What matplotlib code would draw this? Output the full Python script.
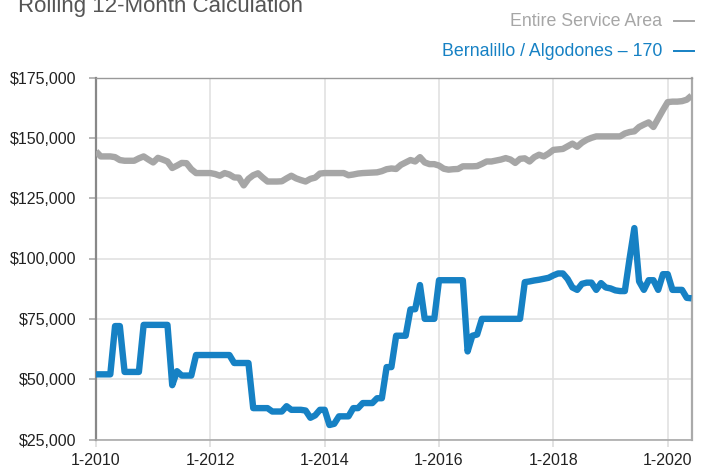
import matplotlib
matplotlib.use("Agg")
import matplotlib.pyplot as plt
from matplotlib.lines import Line2D
import numpy as np

# ---- data (monthly, 1-2010 .. 6-2020) ----
entire_service_area = [
    144.4, 142.3, 142.3, 142.3, 142.0, 140.8, 140.5, 140.5, 140.5, 141.5, 142.3, 141.0,
    139.8, 141.7, 141.0, 140.2, 137.5, 138.5, 139.6, 139.5, 137.0, 135.4, 135.4, 135.4,
    135.4, 135.0, 134.3, 135.4, 134.8, 133.6, 133.5, 130.3, 133.0, 134.5, 135.3, 133.5,
    131.9, 131.9, 131.9, 132.0, 133.2, 134.3, 133.2, 132.5, 131.9, 133.0, 133.5, 135.2,
    135.4, 135.4, 135.4, 135.4, 135.4, 134.5, 134.8, 135.2, 135.4, 135.5, 135.6, 135.7,
    136.2, 137.0, 137.3, 137.1, 138.8, 139.8, 140.8, 140.2, 142.0, 139.8, 139.1, 139.1,
    138.5, 137.2, 136.8, 137.0, 137.1, 138.2, 138.2, 138.2, 138.3, 139.2, 140.2, 140.2,
    140.6, 141.0, 141.6, 141.0, 139.6, 141.3, 141.5, 140.2, 142.0, 143.0, 142.3, 143.5,
    145.0, 145.2, 145.4, 146.5, 147.6, 146.3, 148.0, 149.2, 150.0, 150.6, 150.6, 150.6,
    150.6, 150.6, 150.6, 151.8, 152.4, 152.7, 154.5, 155.5, 156.4, 154.5, 158.0, 161.5,
    164.8, 165.0, 165.0, 165.2, 165.8, 167.5,
]
bernalillo = [
    52.0, 52.0, 52.0, 52.0, 72.0, 72.0, 53.0, 53.0, 53.0, 53.0, 72.5, 72.5,
    72.5, 72.5, 72.5, 72.5, 47.5, 53.3, 51.5, 51.5, 51.5, 60.0, 60.0, 60.0,
    60.0, 60.0, 60.0, 60.0, 60.0, 56.7, 56.7, 56.7, 56.7, 38.0, 38.0, 38.0,
    38.0, 36.6, 36.6, 36.6, 38.8, 37.3, 37.3, 37.3, 37.0, 34.0, 35.0, 37.3,
    37.3, 31.0, 31.5, 34.6, 34.6, 34.6, 38.0, 38.0, 40.1, 40.1, 40.1, 42.1,
    42.1, 55.0, 55.0, 68.0, 68.0, 68.0, 78.9, 79.0, 89.0, 75.0, 75.0, 75.0,
    91.0, 91.0, 91.0, 91.0, 91.0, 91.0, 61.5, 68.0, 68.5, 75.0, 75.0, 75.0,
    75.0, 75.0, 75.0, 75.0, 75.0, 75.0, 90.2, 90.5, 90.9, 91.2, 91.6, 92.0,
    93.0, 93.8, 93.8, 91.5, 88.0, 87.0, 89.5, 90.0, 90.0, 87.0, 89.8, 88.0,
    87.6, 86.8, 86.5, 86.5, 100.0, 112.6, 90.5, 87.0, 91.0, 91.0, 87.0, 93.5,
    93.5, 87.0, 87.0, 87.0, 83.7, 83.5,
]
assert len(entire_service_area) == 126 and len(bernalillo) == 126

x_tick_pos = [0, 24, 48, 72, 96, 120]
x_tick_labels = ["1-2010", "1-2012", "1-2014", "1-2016", "1-2018", "1-2020"]
y_ticks = [25000, 50000, 75000, 100000, 125000, 150000, 175000]
y_tick_labels = ["$25,000", "$50,000", "$75,000", "$100,000", "$125,000", "$150,000", "$175,000"]

title = "Rolling 12-Month Calculation"
legend_gray = "Entire Service Area"
legend_blue = "Bernalillo / Algodones \u2013 170"

GRAY = "#A6A6A6"
BLUE = "#1681C4"

W, H = 705, 466
narrow = ["Liberation Sans Narrow", "Liberation Sans", "DejaVu Sans"]
plt.rcParams["font.family"] = ["Liberation Sans", "DejaVu Sans"]

fig = plt.figure(figsize=(7.05, 4.66), dpi=100)
ax = fig.add_axes([96 / W, 1 - 439.5 / H, (692 - 96) / W, (439.5 - 77.5) / H])

months = np.arange(len(bernalillo))
ax.plot(months, np.array(entire_service_area) * 1000, color=GRAY, lw=4.6,
        solid_joinstyle="round", solid_capstyle="butt", zorder=3)
ax.plot(months, np.array(bernalillo) * 1000, color=BLUE, lw=4.6,
        solid_joinstyle="round", solid_capstyle="butt", zorder=4)

ax.set_xlim(0, 125.1)
ax.set_ylim(25000, 175000)
ax.set_xticks(x_tick_pos)
ax.set_xticklabels(x_tick_labels)
ax.set_yticks(y_ticks)
ax.set_yticklabels(y_tick_labels)

ax.grid(True, color="#E2E2E2", lw=1.2, zorder=0)
ax.set_axisbelow(True)

ax.tick_params(axis="y", length=5, width=1.2, color="#AAAAAA", labelsize=11.5,
               labelcolor="#222222", pad=9)
ax.tick_params(axis="x", length=5, width=1.2, color="#DDDDDD", labelsize=11.5,
               labelcolor="#222222", pad=5)

ax.spines["left"].set_color("#888888")
ax.spines["left"].set_linewidth(1.6)
ax.spines["bottom"].set_color("#AAAAAA")
ax.spines["bottom"].set_linewidth(1.2)
ax.spines["right"].set_color("#AAAAAA")
ax.spines["right"].set_linewidth(1.6)
ax.spines["top"].set_color("#999999")
ax.spines["top"].set_linewidth(1.0)

fig.text(18 / W, 1 - 12 / H, title, family=narrow, fontsize=16,
         color="#555555", ha="left", va="baseline")
fig.text(662 / W, 1 - 26.5 / H, legend_gray, family=narrow, fontsize=12.8,
         color=GRAY, ha="right", va="baseline")
fig.text(662 / W, 1 - 56 / H, legend_blue, family=narrow, fontsize=12.8,
         color=BLUE, ha="right", va="baseline")
# legend dashes
for ypix, col in [(20.7, GRAY), (51.0, BLUE)]:
    fig.add_artist(Line2D([674 / W, 694 / W], [1 - ypix / H, 1 - ypix / H],
                          transform=fig.transFigure, color=col, lw=1.4))

fig.savefig("out.png", dpi=100)
